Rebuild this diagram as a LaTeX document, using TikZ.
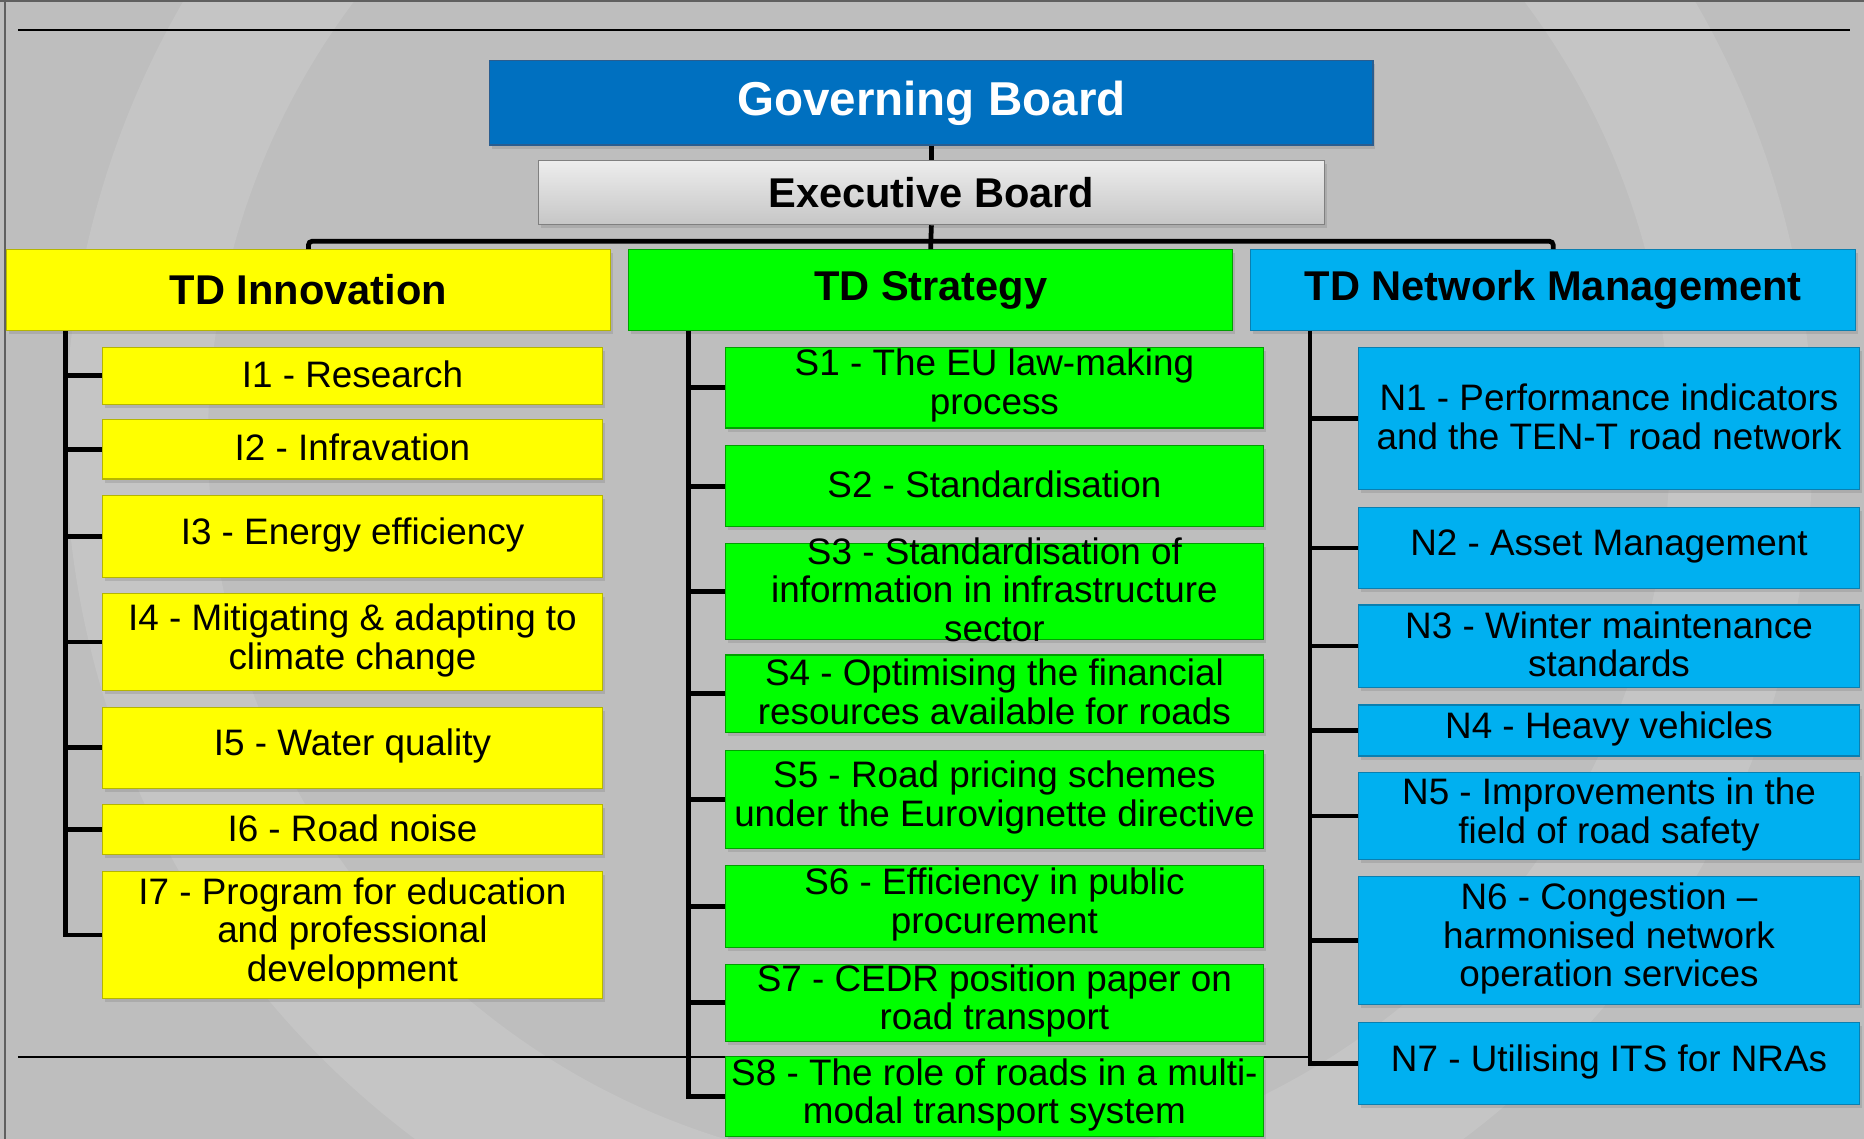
\documentclass[tikz,border=0pt]{standalone}
\usepackage{fontspec}
\setmainfont{Liberation Sans}
\usetikzlibrary{shadows}
\definecolor{bg}{HTML}{BEBEBE}
\definecolor{ringc}{HTML}{C5C5C5}
\definecolor{gbblue}{HTML}{0070C0}
\definecolor{gbedge}{HTML}{2A5D8F}
\definecolor{yel}{HTML}{FFFF00}
\definecolor{yeledge}{HTML}{B5B500}
\definecolor{grn}{HTML}{00FF00}
\definecolor{grnedge}{HTML}{00A000}
\definecolor{cyn}{HTML}{00B0F0}
\definecolor{cynedge}{HTML}{0A7FB0}
\definecolor{ebtop}{HTML}{EDEDED}
\definecolor{ebbot}{HTML}{C6C6C6}
\definecolor{frame}{HTML}{606060}
\newcommand\bx[6]{%
  \node[#1, minimum height=#5pt] (#2) at (#3,#4) {};
  \node[body] (#2t) at ([yshift=1.5pt]#2.center) {#6};}
\begin{document}
\begin{tikzpicture}[x=1pt,y=-1pt,
  base/.style={rectangle, inner sep=0pt, line width=1pt,
    drop shadow={shadow xshift=2pt, shadow yshift=-3pt, opacity=0.3}},
  body/.style={inner sep=0pt, align=center, font=\fontsize{31}{32.5}\selectfont},
  head/.style={base, minimum height=68pt, minimum width=508pt, font=\fontsize{35}{40}\selectfont\bfseries},
  ibox/.style={base, fill=yel, draw=yeledge, minimum width=421pt},
  sbox/.style={base, fill=grn, draw=grnedge, minimum width=453pt},
  nbox/.style={base, fill=cyn, draw=cynedge, minimum width=421pt},
  conn/.style={line width=4pt, black},
  thinline/.style={line width=1.5pt, black}
]
\useasboundingbox (0,0) rectangle (1568,958);
\fill[bg] (0,0) rectangle (1568,958);
\begin{scope}
  \clip (0,0) rectangle (1568,958);
  \fill[ringc, even odd rule] (790,370) circle (735) (790,370) circle (615);
\end{scope}
\draw[frame, line width=2pt] (4,0) -- (4,958);
\draw[frame, line width=1.5pt] (0,0.75) -- (1568,0.75);
\draw[thinline] (15,25) -- (1556,25);
\draw[thinline] (15,889) -- (1102,889);

% top
\node[base, fill=gbblue, draw=gbedge, minimum width=743pt, minimum height=71pt,
  text=white, font=\fontsize{40}{44}\selectfont\bfseries] (gb) at (783.5,86.5) {Governing Board};
\node[base, top color=ebtop, bottom color=ebbot, draw=gray, minimum width=661pt, minimum height=54pt,
  font=\fontsize{35}{40}\selectfont\bfseries] (eb) at (783.5,162) {Executive Board};

\node[head, fill=yel, draw=yeledge] (tdi) at (259.5,244) {TD Innovation};
\node[head, fill=grn, draw=grnedge] (tds) at (783,244) {TD Strategy};
\node[head, fill=cyn, draw=cynedge, minimum width=509pt] (tdn) at (1306.5,244) {TD Network Management};

% innovation
\bx{ibox}{i1}{296.5}{316}{48}{I1 - Research}
\bx{ibox}{i2}{296.5}{378}{50}{I2 - Infravation}
\bx{ibox}{i3}{296.5}{451.5}{69}{I3 - Energy efficiency}
\bx{ibox}{i4}{296.5}{540}{82}{I4 - Mitigating \& adapting to\\climate change}
\bx{ibox}{i5}{296.5}{629}{68}{I5 - Water quality}
\bx{ibox}{i6}{296.5}{698}{42}{I6 - Road noise}
\bx{ibox}{i7}{296.5}{786.5}{107}{I7 - Program for education\\and professional\\development}

% strategy
\bx{sbox}{s1}{836.5}{326}{68}{S1 - The EU law-making\\process}
\bx{sbox}{s2}{836.5}{409}{68}{S2 - Standardisation}
\bx{sbox}{s3}{836.5}{497.5}{81}{S3 - Standardisation of\\information in infrastructure\\sector}
\bx{sbox}{s4}{836.5}{583.5}{65}{S4 - Optimising the financial\\resources available for roads}
\bx{sbox}{s5}{836.5}{672.5}{83}{S5 - Road pricing schemes\\under the Eurovignette directive}
\bx{sbox}{s6}{836.5}{762.5}{69}{S6 - Efficiency in public\\procurement}
\bx{sbox}{s7}{836.5}{843.5}{65}{S7 - CEDR position paper on\\road transport}
\bx{sbox}{s8}{836.5}{922.5}{67}{S8 - The role of roads in a multi-\\modal transport system}

% network
\bx{nbox}{n1}{1353.5}{352}{120}{N1 - Performance indicators\\and the TEN-T road network}
\bx{nbox}{n2}{1353.5}{461}{68}{N2 - Asset Management}
\bx{nbox}{n3}{1353.5}{543.5}{69}{N3 - Winter maintenance\\standards}
\bx{nbox}{n4}{1353.5}{614.5}{43}{N4 - Heavy vehicles}
\bx{nbox}{n5}{1353.5}{686.5}{73}{N5 - Improvements in the\\field of road safety}
\bx{nbox}{n6}{1353.5}{791}{108}{N6 - Congestion –\\harmonised network\\operation services}
\bx{nbox}{n7}{1353.5}{894.5}{69}{N7 - Utilising ITS for NRAs}

% connectors
\coordinate (bus) at (783,203);
\coordinate (ibus) at (55,0);
\coordinate (sbus) at (579,0);
\coordinate (nbus) at (1102,0);
\draw[conn] (gb.south) -- (eb.north);
\draw[conn] (eb.south) -- (bus) -- (tds.north);
\draw[conn, rounded corners=3pt] (tdi.north) |- (bus) -| (tdn.north);

\draw[conn] (ibus |- tdi.south) |- (i7.west);
\foreach \n in {i1,i2,i3,i4,i5,i6} \draw[conn] (\n.west) -- (\n.west -| ibus);
\draw[conn] (sbus |- tds.south) |- (s8.west);
\foreach \n in {s1,s2,s3,s4,s5,s6,s7} \draw[conn] (\n.west) -- (\n.west -| sbus);
\draw[conn] (nbus |- tdn.south) |- (n7.west);
\foreach \n in {n1,n2,n3,n4,n5,n6} \draw[conn] (\n.west) -- (\n.west -| nbus);
\end{tikzpicture}
\end{document}
